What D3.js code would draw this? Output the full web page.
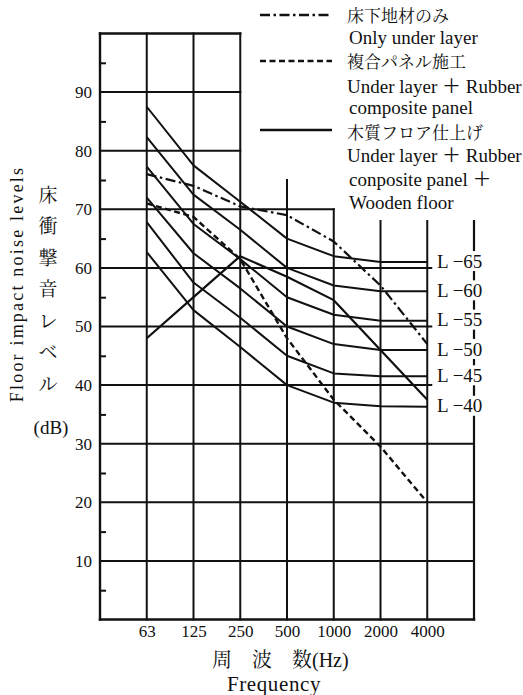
<!DOCTYPE html>
<html>
<head>
<meta charset="utf-8">
<script src="https://cdn.jsdelivr.net/npm/d3@7"></script>
<style>
  html, body { margin: 0; padding: 0; background: #fff; }
  svg { display: block; }
</style>
</head>
<body>
<svg id="chart" width="523" height="695"></svg>
<script>
// Octave-band centre frequencies (Hz)
const freqLabels = ["63", "125", "250", "500", "1000", "2000", "4000"];
const yTickValues = [10, 20, 30, 40, 50, 60, 70, 80, 90];
const yMinorTicks = [5, 15, 25, 35, 45, 55, 65, 75, 85, 95];

// L-number reference curves (dB per octave band)
const lRatings = [65, 60, 55, 50, 45, 40];
const lCurve65 = [87.5, 77.5, 71.3, 65, 62, 61, 61];
const lCurve60 = [82.3, 72.5, 66.5, 60, 57, 56, 56];
const lCurve55 = [77.3, 67.5, 61.5, 55, 52, 51, 51];
const lCurve50 = [72, 62.5, 56.5, 50, 47, 46, 46];
const lCurve45 = [67.8, 57.5, 51.5, 45, 42, 41.5, 41.5];
const lCurve40 = [62.7, 52.8, 46.5, 40, 37, 36.4, 36.3];

// Measured floor impact noise levels
const underLayerOnly = [76, 74, 70.5, 69, 64.5, 57, 47];
const compositePanel = [71, 68.7, 61.5, 48, 37.5, 29.5, 20];
const woodenFloor = [48, 55, 62, 58.5, 54.5, 46, 37.5];

// Legend texts
const legendJa = ["床下地材のみ", "複合パネル施工", "木質フロア仕上げ"];
const legendEn = [
  ["Only under layer"],
  ["Under layer ＋ Rubber", "composite panel"],
  ["Under layer ＋ Rubber", "conposite panel ＋", "Wooden floor"]
];
const yTitleJa = ["床", "衝", "撃", "音", "レ", "ベ", "ル"];

const serif = "'Liberation Serif', 'Times New Roman', 'Noto Sans CJK JP', serif";
const cjk = "'Noto Serif CJK JP', 'Noto Sans CJK JP', sans-serif";

const svg = d3.select("#chart");

// Octave index -1 (31.5 Hz) .. 7 (8000 Hz) across the frame
const x = d3.scaleLinear().domain([-1, freqLabels.length]).range([100, 474]);
const y = d3.scaleLinear().domain([0, 100]).range([619.5, 33.5]);

const grid = svg.append("g")
  .attr("stroke", "#111")
  .attr("fill", "none")
  .attr("stroke-linecap", "square");

function seg(x1, y1, x2, y2, w) {
  grid.append("line")
    .attr("x1", x1).attr("y1", y1).attr("x2", x2).attr("y2", y2)
    .attr("stroke-width", w || 2);
}

// Stepped outer frame
seg(x(-1), y(100), x(-1), y(0), 2.4);
seg(x(-1), y(0), x(7), y(0), 2.4);
seg(x(-1), y(100), x(2), y(100), 2.4);
seg(x(7), y(68), x(7), y(0), 2.2);

// Vertical band lines (upper end steps down to the right)
const vTop = [100, 100, 100, 75, 70, 68, 68];
freqLabels.forEach((f, i) => seg(x(i), y(vTop[i]), x(i), y(0)));

// Horizontal level lines
const hRight = v => v >= 80 ? x(2) : v >= 70 ? x(4) : v >= 40 ? x(6) + 4 : x(7);
yTickValues.forEach(v => seg(x(-1), y(v), hRight(v), y(v)));

// Minor ticks on the level axis
svg.append("g")
  .attr("transform", `translate(${x(-1)},0)`)
  .call(d3.axisRight(y).tickValues(yMinorTicks).tickSize(6).tickFormat(""))
  .call(g => g.select(".domain").remove())
  .call(g => g.selectAll("line").attr("stroke", "#111").attr("stroke-width", 2));

// Level tick labels
svg.append("g")
  .attr("transform", `translate(${x(-1)},0)`)
  .call(d3.axisLeft(y).tickValues(yTickValues).tickSize(0).tickPadding(8))
  .call(g => g.select(".domain").remove())
  .call(g => g.selectAll("text")
    .attr("font-family", serif).attr("font-size", 17).attr("fill", "#111"));

// Frequency tick labels
svg.append("g")
  .attr("transform", `translate(0,${y(0)})`)
  .call(d3.axisBottom(x).tickValues(d3.range(freqLabels.length))
    .tickFormat(i => freqLabels[i]).tickSize(0).tickPadding(5))
  .call(g => g.select(".domain").remove())
  .call(g => g.selectAll("text")
    .attr("font-family", serif).attr("font-size", 17).attr("fill", "#111"));

// Curves
const line = d3.line().x((d, i) => x(i)).y(d => y(d));
const lCurves = [lCurve65, lCurve60, lCurve55, lCurve50, lCurve45, lCurve40];

const curves = svg.append("g").attr("fill", "none").attr("stroke", "#111")
  .attr("stroke-linejoin", "round");

lCurves.forEach(c => curves.append("path").attr("d", line(c)).attr("stroke-width", 2));

curves.append("path").attr("d", line(woodenFloor)).attr("stroke-width", 2.2);
curves.append("path").attr("d", line(compositePanel)).attr("stroke-width", 2.4)
  .attr("stroke-dasharray", "6,3.5");
curves.append("path").attr("d", line(underLayerOnly)).attr("stroke-width", 2.2)
  .attr("stroke-dasharray", "10,3.5,2.5,3.5");

// L-number labels at the right end of each reference curve
const last = freqLabels.length - 1;
const lab = svg.append("g");
lCurves.forEach((c, k) => {
  const cy = y(c[last]) - 1;
  lab.append("rect").attr("x", 434).attr("y", cy - 10).attr("width", 54).attr("height", 20)
    .attr("fill", "#fff");
  lab.append("text").attr("x", 437).attr("y", cy).attr("dy", "0.35em")
    .attr("font-family", serif).attr("font-size", 19).attr("fill", "#111")
    .text(`L −${lRatings[k]}`);
});

// Legend
const legend = svg.append("g");
const sampleY = [15, 61, 130];
const sampleDash = ["10,3.5,2.5,3.5", "6,3.5", null];
sampleY.forEach((sy, k) => {
  const l = legend.append("line").attr("x1", 260).attr("x2", 332)
    .attr("y1", sy).attr("y2", sy).attr("stroke", "#111").attr("stroke-width", 2.3);
  if (sampleDash[k]) l.attr("stroke-dasharray", sampleDash[k]);
});
const jaBase = [22, 68, 139];
const enBase = [[44], [93, 114], [162, 186, 209]];
legendJa.forEach((t, k) => {
  legend.append("text").attr("x", 347).attr("y", jaBase[k])
    .attr("font-family", cjk).attr("font-size", 17).attr("fill", "#111").text(t);
  legendEn[k].forEach((s, j) => {
    legend.append("text").attr("x", s.startsWith("Under") ? 347 : 349).attr("y", enBase[k][j])
      .attr("font-family", serif).attr("font-size", 19).attr("fill", "#111").text(s);
  });
});

// Level axis titles
svg.append("text")
  .attr("transform", "translate(23,284) rotate(-90)")
  .attr("text-anchor", "middle")
  .attr("font-family", serif).attr("font-size", 18).attr("letter-spacing", 2.2)
  .attr("fill", "#111").text("Floor impact noise levels");

yTitleJa.forEach((ch, i) => {
  svg.append("text").attr("x", 48).attr("y", 195 + i * 31.5).attr("dy", "0.36em")
    .attr("text-anchor", "middle")
    .attr("font-family", cjk).attr("font-size", 19).attr("fill", "#111").text(ch);
});
svg.append("text").attr("x", 51).attr("y", 427).attr("dy", "0.35em")
  .attr("text-anchor", "middle")
  .attr("font-family", serif).attr("font-size", 19).attr("fill", "#111").text("(dB)");

// Frequency axis titles
const fTitle = svg.append("text").attr("x", 212).attr("y", 667).attr("fill", "#111");
fTitle.append("tspan").attr("font-family", cjk).attr("font-size", 20).text("周　波　数");
fTitle.append("tspan").attr("font-family", serif).attr("font-size", 20).text("(Hz)");

svg.append("text").attr("x", 274).attr("y", 691).attr("text-anchor", "middle")
  .attr("font-family", serif).attr("font-size", 21).attr("letter-spacing", 0.6)
  .attr("fill", "#111").text("Frequency");
</script>
</body>
</html>
